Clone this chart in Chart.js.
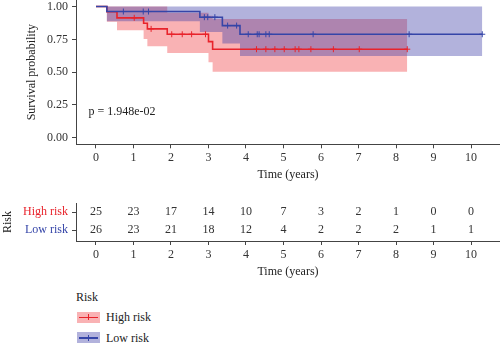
<!DOCTYPE html>
<html>
<head>
<meta charset="utf-8">
<script src="https://cdn.jsdelivr.net/npm/chart.js@4.4.1/dist/chart.umd.min.js"></script>
<style>
  html, body { margin:0; padding:0; background:#fff; width:500px; height:346px; overflow:hidden;
    font-family:'Liberation Serif','DejaVu Serif',serif; }
  #main { position:absolute; left:0; top:0; }
  #table { position:absolute; left:0; top:190px; }
  .lg { position:absolute; font-size:12px; line-height:14px; color:#222; white-space:nowrap; }
  .key { position:absolute; width:23px; height:11px; }
  .key .ln { position:absolute; left:2px; right:2px; top:5px; height:1.5px; }
  .key .tk { position:absolute; left:11px; top:2.5px; width:1px; height:6px; }
</style>
</head>
<body>
<canvas id="main" width="500" height="190"></canvas>
<canvas id="table" width="500" height="95"></canvas>
<div id="legend"></div>
<script>
// ---------------- data ----------------
const groupLabels = ['High risk', 'Low risk'];

// Low risk group: step times, survival, confidence band
const lowTimes  = [0, 0.29, 2.77, 3.37, 3.84, 10.3];
const lowSurv   = [1, 0.962, 0.919, 0.855, 0.789, 0.789];
const lowUpper  = [1, 1, 1, 1, 1, 1];
const lowLower  = [1, 0.888, 0.807, 0.718, 0.624, 0.624];
const lowCensor = [0.73, 1.26, 1.40, 2.89, 2.98, 3.17, 3.51, 3.75, 4.06, 4.30, 4.35, 4.53, 4.62, 5.79, 8.35, 10.3];

// High risk group
const highTimes  = [0, 0.29, 0.56, 1.27, 1.37, 1.90, 3.00, 3.11, 8.30];
const highSurv   = [1, 0.960, 0.914, 0.873, 0.830, 0.789, 0.733, 0.675, 0.675];
const highUpper  = [1, 1, 1, 1, 1, 0.952, 0.930, 0.906, 0.906];
const highLower  = [1, 0.885, 0.820, 0.753, 0.697, 0.646, 0.575, 0.504, 0.504];
const highCensor = [1.02, 1.47, 2.02, 2.30, 2.55, 2.92, 4.28, 4.53, 4.77, 5.02, 5.31, 5.41, 5.73, 6.33, 7.02, 8.30];

// Number at risk table
const riskTimes  = [0, 1, 2, 3, 4, 5, 6, 7, 8, 9, 10];
const highAtRisk = [25, 23, 17, 14, 10, 7, 3, 2, 1, 0, 0];
const lowAtRisk  = [26, 23, 21, 18, 12, 4, 2, 2, 2, 1, 1];

// tick labels / annotation
const xTicks = [0, 1, 2, 3, 4, 5, 6, 7, 8, 9, 10];
const yTicks = [0, 0.25, 0.5, 0.75, 1];
const pValueText = 'p = 1.948e-02';
const pValuePos = { x: -0.2, y: 0.2 };

// ---------------- styles ----------------
const FONT = "'Liberation Serif', 'DejaVu Serif', serif";
const RED = '#E8232B';
const BLUE = '#3545A8';
const RED_BAND = '#F9B2B4';
const BLUE_BAND = 'rgba(62,62,167,0.4)';
const AXIS = '#444';
const TXT = '#333';
Chart.defaults.font.family = FONT;
Chart.defaults.font.size = 12;
Chart.defaults.color = TXT;

const pts = (times, vals) => times.map((t, i) => ({ x: t, y: vals[i] }));
function survAt(times, surv, t) {
  let v = surv[0];
  for (let i = 0; i < times.length; i++) if (times[i] <= t) v = surv[i];
  return v;
}
const censorPts = (c, times, surv) => c.map(t => ({ x: t, y: survAt(times, surv, t) }));

const X_MIN = -0.533, X_MAX = 10.773;

function fixSize(w, h) {
  return function (scale) {
    if (w !== null) scale.width = w;
    if (h !== null) scale.height = h;
    scale.paddingLeft = 0; scale.paddingRight = 0;
    scale.paddingTop = 0; scale.paddingBottom = 0;
  };
}
const setTicks = arr => scale => { scale.ticks = arr.map(v => ({ value: v })); };

const band = (data, color, fill, order) => ({
  data, stepped: true, borderColor: 'transparent', borderWidth: 1, pointRadius: 0,
  backgroundColor: color, fill, order
});

// ---------------- main KM chart ----------------
const pvalPlugin = {
  id: 'pval',
  afterDatasetsDraw(chart) {
    const { ctx, scales: { x, y } } = chart;
    ctx.save();
    ctx.font = '12px ' + FONT;
    ctx.fillStyle = '#222';
    ctx.textAlign = 'left';
    ctx.textBaseline = 'middle';
    ctx.fillText(pValueText, x.getPixelForValue(pValuePos.x), y.getPixelForValue(pValuePos.y));
    ctx.restore();
  }
};

new Chart(document.getElementById('main'), {
  type: 'line',
  data: {
    datasets: [
      band(pts(highTimes, highUpper), RED_BAND, '+1', 6),
      band(pts(highTimes, highLower), RED_BAND, false, 5),
      band(pts(lowTimes, lowUpper), BLUE_BAND, '+1', 4),
      band(pts(lowTimes, lowLower), BLUE_BAND, false, 3),
      { data: pts(highTimes, highSurv), stepped: true, borderColor: RED, borderWidth: 1.6, pointRadius: 0, fill: false, order: 2 },
      { data: censorPts(highCensor, highTimes, highSurv), showLine: false, pointStyle: 'cross', pointRadius: 3,
        borderColor: RED, pointBorderWidth: 1, fill: false, order: 2 },
      { data: pts(lowTimes, lowSurv), stepped: true, borderColor: BLUE, borderWidth: 1.6, pointRadius: 0, fill: false, order: 1 },
      { data: censorPts(lowCensor, lowTimes, lowSurv), showLine: false, pointStyle: 'cross', pointRadius: 3,
        borderColor: BLUE, pointBorderWidth: 1, fill: false, order: 0 }
    ]
  },
  options: {
    responsive: false, animation: false, events: [],
    layout: { padding: 0, autoPadding: false },
    plugins: { legend: { display: false }, tooltip: { enabled: false } },
    scales: {
      x: {
        type: 'linear', min: X_MIN, max: X_MAX,
        afterBuildTicks: setTicks(xTicks), afterFit: fixSize(null, 45.7),
        grid: { drawOnChartArea: false, drawTicks: true, tickLength: 4, color: AXIS },
        border: { display: true, color: AXIS, width: 1 },
        ticks: { padding: 2, color: TXT, font: { size: 12 }, callback: v => String(v) },
        title: { display: true, text: 'Time (years)', color: '#222', font: { size: 12 }, padding: { top: 0, bottom: 7.8 } }
      },
      y: {
        type: 'linear', min: -0.05, max: 1.05,
        afterBuildTicks: setTicks(yTicks), afterFit: fixSize(76, null),
        grid: { drawOnChartArea: false, drawTicks: true, tickLength: 4, color: AXIS },
        border: { display: true, color: AXIS, width: 1 },
        ticks: { padding: 4, color: TXT, font: { size: 12 }, callback: v => Number(v).toFixed(2) },
        title: { display: true, text: 'Survival probability', color: '#222', font: { size: 12 }, padding: { top: 24.5, bottom: 0 } }
      }
    }
  },
  plugins: [pvalPlugin]
});

// ---------------- risk table ----------------
const tablePlugin = {
  id: 'riskText',
  afterDatasetsDraw(chart) {
    const { ctx } = chart;
    ctx.save();
    ctx.font = '12px ' + FONT;
    ctx.fillStyle = TXT;
    ctx.textAlign = 'center';
    ctx.textBaseline = 'middle';
    chart.data.datasets.forEach((ds, di) => {
      const meta = chart.getDatasetMeta(di);
      meta.data.forEach((el, i) => ctx.fillText(String(ds.counts[i]), el.x, el.y));
    });
    ctx.restore();
  }
};

new Chart(document.getElementById('table'), {
  type: 'line',
  data: {
    datasets: [
      { data: riskTimes.map(t => ({ x: t, y: 0 })), counts: highAtRisk, showLine: false, pointRadius: 0 },
      { data: riskTimes.map(t => ({ x: t, y: 1 })), counts: lowAtRisk, showLine: false, pointRadius: 0 }
    ]
  },
  options: {
    responsive: false, animation: false, events: [],
    layout: { padding: { top: 13, left: 0, right: 0, bottom: 0 }, autoPadding: false },
    plugins: { legend: { display: false }, tooltip: { enabled: false } },
    scales: {
      x: {
        type: 'linear', min: X_MIN, max: X_MAX,
        afterBuildTicks: setTicks(riskTimes), afterFit: fixSize(null, 44),
        grid: { drawOnChartArea: false, drawTicks: true, tickLength: 4, color: AXIS },
        border: { display: true, color: AXIS, width: 1 },
        ticks: { padding: 3, color: TXT, font: { size: 12 }, callback: v => String(v) },
        title: { display: true, text: 'Time (years)', color: '#222', font: { size: 12 }, padding: { top: 0, bottom: 6.1 } }
      },
      y: {
        type: 'linear', min: -0.525, max: 1.62, reverse: true,
        afterBuildTicks: setTicks([0, 1]), afterFit: fixSize(76, null),
        grid: { drawOnChartArea: false, drawTicks: true, tickLength: 4, color: AXIS },
        border: { display: true, color: AXIS, width: 1 },
        ticks: { padding: 4, font: { size: 12 }, callback: v => groupLabels[v],
                 color: c => (c.index === 0 ? RED : BLUE) },
        title: { display: true, text: 'Risk', color: '#222', font: { size: 12 }, padding: { top: 1, bottom: 0 } }
      }
    }
  },
  plugins: [tablePlugin]
});

// ---------------- legend (HTML) ----------------
(function () {
  const lg = document.getElementById('legend');
  const items = [
    { label: groupLabels[0], line: RED, fill: RED_BAND, top: 311.5 },
    { label: groupLabels[1], line: BLUE, fill: '#B2B2DC', top: 332 }
  ];
  let html = '<div class="lg" style="left:76px;top:289.5px">Risk</div>';
  items.forEach(it => {
    html += '<div class="key" style="left:77px;top:' + it.top + 'px;background:' + it.fill + '">' +
            '<div class="ln" style="background:' + it.line + '"></div>' +
            '<div class="tk" style="background:' + it.line + '"></div></div>';
    html += '<div class="lg" style="left:106px;top:' + (it.top - 1.5) + 'px">' + it.label + '</div>';
  });
  lg.innerHTML = html;
})();
</script>
</body>
</html>
